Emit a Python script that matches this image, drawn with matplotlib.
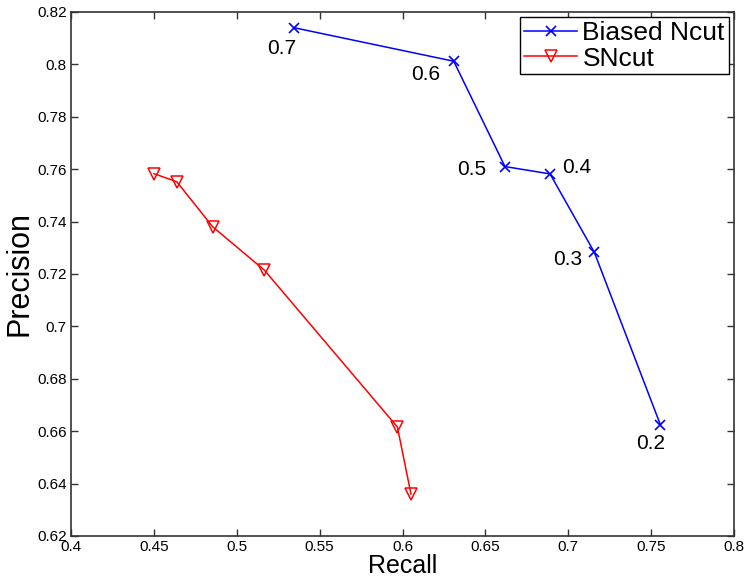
import matplotlib
matplotlib.use('Agg')
import matplotlib.pyplot as plt

plt.rcParams['font.family'] = ['Liberation Sans', 'DejaVu Sans']

# Biased Ncut curve (recall, precision) with its parameter labels
ncut_recall = [0.5345, 0.6309, 0.6618, 0.689, 0.7157, 0.7556]
ncut_precision = [0.814, 0.8012, 0.761, 0.7582, 0.7283, 0.6624]
ncut_params = ['0.7', '0.6', '0.5', '0.4', '0.3', '0.2']
# label offsets in pixels (dx, dy), y up
label_offsets = [(-12, -21), (-28, -13), (-33, -3), (27, 6), (-27, -7), (-10, -19)]

# SNcut curve
sncut_recall = [0.450, 0.4638, 0.4855, 0.5166, 0.5969, 0.6051]
sncut_precision = [0.7583, 0.7552, 0.738, 0.7215, 0.6616, 0.636]

fig = plt.figure(figsize=(7.5, 5.84), dpi=100)
ax = fig.add_axes([0.0947, 0.0822, 0.884, 0.8973])

ax.plot(ncut_recall, ncut_precision, color='blue', marker='x', ms=7, mew=1.2,
        lw=1.1, label='Biased Ncut')
ax.plot(sncut_recall, sncut_precision, color='red', marker='v', ms=8, mew=1.1,
        mfc='none', lw=1.1, label='SNcut')

for xv, yv, txt, off in zip(ncut_recall, ncut_precision, ncut_params, label_offsets):
    ax.annotate(txt, (xv, yv), xytext=off, textcoords='offset pixels',
                ha='center', va='center', fontsize=15)

ax.set_xlim(0.4, 0.8)
ax.set_ylim(0.62, 0.82)
ax.set_xticks([0.4, 0.45, 0.5, 0.55, 0.6, 0.65, 0.7, 0.75, 0.8])
ax.set_xticklabels(['0.4', '0.45', '0.5', '0.55', '0.6', '0.65', '0.7', '0.75', '0.8'])
ax.set_yticks([0.62, 0.64, 0.66, 0.68, 0.7, 0.72, 0.74, 0.76, 0.78, 0.8, 0.82])
ax.set_yticklabels(['0.62', '0.64', '0.66', '0.68', '0.7', '0.72', '0.74',
                    '0.76', '0.78', '0.8', '0.82'])
ax.tick_params(direction='in', top=True, right=True, length=5, width=1,
               color='#333333', labelsize=11, pad=3)
for sp in ax.spines.values():
    sp.set_color('#333333')
    sp.set_linewidth(1.2)

ax.set_xlabel('Recall', fontsize=18, labelpad=0)
ax.set_ylabel('Precision', fontsize=22, labelpad=2)

leg = ax.legend(loc='upper right', fontsize=19, fancybox=False, framealpha=1,
                edgecolor='black', borderaxespad=0.2, labelspacing=0.05,
                handlelength=2.0, handletextpad=0.2, borderpad=0.15)
leg.get_frame().set_linewidth(1.0)

fig.savefig('out.png', dpi=100)
